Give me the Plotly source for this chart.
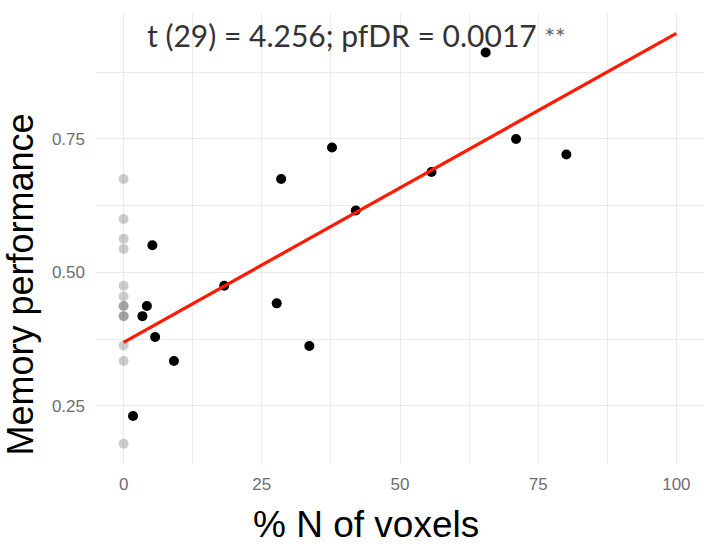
import plotly.graph_objects as go

# Black points (participants with voxels)
black_x = [65.5, 71.0, 80.1, 55.7, 42.0, 37.7, 28.5, 18.2, 27.7, 33.6, 5.2, 4.2, 3.4, 5.7, 9.1, 1.7]
black_y = [0.912, 0.750, 0.721, 0.688, 0.616, 0.734, 0.675, 0.475, 0.442, 0.362, 0.551, 0.437, 0.418, 0.379, 0.334, 0.231]

# Grey points at x = 0
grey_x = [0, 0, 0, 0, 0, 0, 0, 0, 0, 0, 0, 0, 0]
grey_y = [0.675, 0.600, 0.563, 0.544, 0.475, 0.455, 0.437, 0.437, 0.418, 0.418, 0.363, 0.334, 0.179]

# Regression line
line_x = [0, 100]
line_y = [0.369, 0.948]

x_ticks = [0, 25, 50, 75, 100]
y_ticks = [0.25, 0.50, 0.75]
y_tick_labels = ["0.25", "0.50", "0.75"]

stat_text = "t (29) = 4.256; pfDR = 0.0017"

fig = go.Figure()
fig.add_trace(go.Scatter(x=grey_x, y=grey_y, mode="markers",
                         marker=dict(color="rgba(0,0,0,0.2)", size=10, line=dict(width=0)),
                         showlegend=False, hoverinfo="skip"))
fig.add_trace(go.Scatter(x=black_x, y=black_y, mode="markers",
                         marker=dict(color="black", size=10, line=dict(width=0)),
                         showlegend=False))
fig.add_trace(go.Scatter(x=line_x, y=line_y, mode="lines",
                         line=dict(color="#ff1a00", width=3.2),
                         showlegend=False))

grid_col = "#ebebeb"
tick_font = dict(family="Liberation Sans, Arial, sans-serif", size=17, color="#6e6e6e")

fig.update_layout(
    width=712, height=557,
    margin=dict(l=96, r=8, t=13, b=93),
    paper_bgcolor="white", plot_bgcolor="white",
    xaxis=dict(range=[-5, 105], tickvals=x_ticks, ticktext=[str(v) for v in x_ticks],
               showgrid=True, gridcolor=grid_col, gridwidth=1.3, zeroline=False,
               showline=False, ticks="", tickfont=tick_font, ticklabelstandoff=8,
               minor=dict(tickvals=[12.5, 37.5, 62.5, 87.5], showgrid=True,
                          gridcolor=grid_col, gridwidth=1.1)),
    yaxis=dict(range=[0.141, 0.986], tickvals=y_ticks, ticktext=y_tick_labels,
               showgrid=True, gridcolor=grid_col, gridwidth=1.3, zeroline=False,
               showline=False, ticks="", tickfont=tick_font, ticklabelstandoff=10,
               minor=dict(tickvals=[0.375, 0.625, 0.875], showgrid=True,
                          gridcolor=grid_col, gridwidth=1.1)),
    annotations=[
        dict(text=stat_text + " <span style='font-size:25px;color:#666666'>**</span>",
             xref="paper", yref="paper", x=0.080, y=0.951,
             xanchor="left", yanchor="middle", showarrow=False,
             font=dict(family="Lato, sans-serif", size=30, color="#333333")),
        dict(text="Memory performance", xref="paper", yref="paper",
             x=-0.124, y=0.397, xanchor="center", yanchor="middle",
             textangle=-90, showarrow=False,
             font=dict(family="Liberation Sans, Arial, sans-serif", size=36, color="black")),
        dict(text="% N of voxels", xref="paper", yref="paper",
             x=0.444, y=-0.135, xanchor="center", yanchor="middle", showarrow=False,
             font=dict(family="Liberation Sans, Arial, sans-serif", size=37, color="black")),
    ],
)

fig.write_html("out.html")
